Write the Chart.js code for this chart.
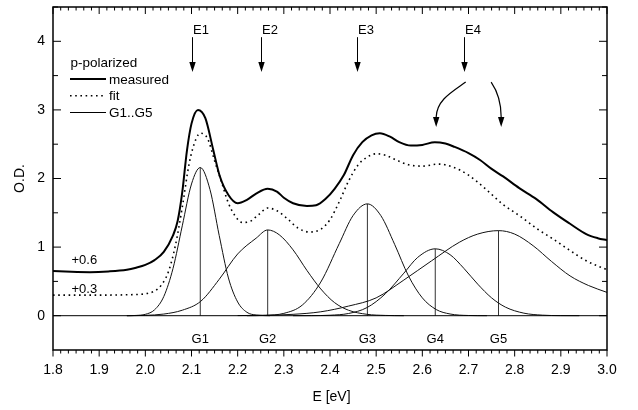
<!DOCTYPE html>
<html>

<head>
    <meta charset="utf-8">
    <title>O.D. spectrum, p-polarized</title>
    <script src="https://cdn.jsdelivr.net/npm/chart.js@4.4.1/dist/chart.umd.min.js"></script>
    <style>
        body { margin: 0; background: #fff; }
        canvas { display: block; }
    </style>
</head>

<body>
    <canvas id="chart" width="638" height="410"></canvas>
    <script>
        // axis ticks
        const xTicks = [1.8, 1.9, 2.0, 2.1, 2.2, 2.3, 2.4, 2.5, 2.6, 2.7, 2.8, 2.9, 3.0];
        const yTicks = [0, 1, 2, 3, 4];

        // measured spectrum (+0.6 offset)
        const measuredE = [1.80, 1.84, 1.88, 1.92, 1.96, 1.98, 2.00, 2.02, 2.04, 2.06, 2.07, 2.08, 2.09, 2.10, 2.114, 2.13, 2.147, 2.161, 2.18, 2.20, 2.22, 2.24, 2.265, 2.285, 2.30, 2.32, 2.35, 2.37, 2.39, 2.41, 2.43, 2.45, 2.47, 2.49, 2.508, 2.53, 2.55, 2.575, 2.60, 2.627, 2.65, 2.67, 2.70, 2.725, 2.75, 2.775, 2.81, 2.847, 2.883, 2.92, 2.955, 2.98, 3.00];
        const measuredOD = [0.65, 0.64, 0.635, 0.645, 0.67, 0.70, 0.74, 0.81, 0.93, 1.17, 1.38, 1.80, 2.40, 2.80, 3.00, 2.88, 2.42, 2.04, 1.76, 1.64, 1.69, 1.78, 1.85, 1.81, 1.72, 1.64, 1.60, 1.61, 1.70, 1.85, 2.05, 2.34, 2.53, 2.63, 2.66, 2.61, 2.53, 2.48, 2.49, 2.53, 2.51, 2.46, 2.37, 2.27, 2.14, 2.03, 1.86, 1.70, 1.51, 1.34, 1.19, 1.13, 1.10];

        // fit (+0.3 offset)
        const fitE = [1.80, 1.90, 1.96, 2.00, 2.02, 2.035, 2.05, 2.065, 2.08, 2.095, 2.11, 2.12, 2.135, 2.15, 2.165, 2.18, 2.195, 2.21, 2.225, 2.245, 2.265, 2.285, 2.31, 2.33, 2.355, 2.38, 2.40, 2.42, 2.44, 2.46, 2.48, 2.50, 2.52, 2.54, 2.57, 2.60, 2.635, 2.665, 2.70, 2.74, 2.775, 2.81, 2.85, 2.885, 2.92, 2.955, 3.00];
        const fitOD = [0.30, 0.30, 0.305, 0.32, 0.36, 0.45, 0.64, 1.02, 1.58, 2.22, 2.58, 2.66, 2.58, 2.26, 1.95, 1.64, 1.45, 1.36, 1.37, 1.47, 1.57, 1.53, 1.40, 1.28, 1.22, 1.26, 1.40, 1.66, 1.96, 2.19, 2.31, 2.36, 2.34, 2.28, 2.20, 2.18, 2.21, 2.17, 2.05, 1.83, 1.62, 1.46, 1.26, 1.11, 0.95, 0.80, 0.67];

        // gaussian components G1..G5
        const g1E = [1.96, 1.98, 2.00, 2.02, 2.04, 2.06, 2.08, 2.10, 2.119, 2.14, 2.16, 2.18, 2.20, 2.22, 2.24, 2.27];
        const g1OD = [0.0, 0.004, 0.02, 0.086, 0.28, 0.69, 1.31, 1.92, 2.16, 1.84, 1.17, 0.55, 0.20, 0.05, 0.01, 0.0];
        const g2E = [1.96, 2.00, 2.04, 2.08, 2.12, 2.16, 2.20, 2.24, 2.265, 2.29, 2.32, 2.35, 2.38, 2.41, 2.44, 2.48, 2.52, 2.56];
        const g2OD = [0.0, 0.005, 0.024, 0.08, 0.21, 0.53, 0.90, 1.13, 1.25, 1.18, 0.96, 0.66, 0.39, 0.19, 0.08, 0.02, 0.004, 0.0];
        const g3E = [2.22, 2.26, 2.30, 2.34, 2.38, 2.42, 2.45, 2.481, 2.51, 2.54, 2.57, 2.60, 2.63, 2.66, 2.70, 2.74];
        const g3OD = [0.0, 0.005, 0.034, 0.155, 0.49, 1.05, 1.46, 1.63, 1.46, 1.04, 0.58, 0.26, 0.09, 0.025, 0.003, 0.0];
        const g4E = [2.32, 2.36, 2.40, 2.44, 2.48, 2.52, 2.56, 2.59, 2.628, 2.66, 2.69, 2.72, 2.75, 2.78, 2.82, 2.86, 2.90, 2.94];
        const g4OD = [0.0, 0.001, 0.007, 0.032, 0.118, 0.32, 0.62, 0.85, 0.975, 0.89, 0.69, 0.46, 0.26, 0.125, 0.037, 0.008, 0.001, 0.0];
        const g5E = [2.20, 2.26, 2.32, 2.38, 2.44, 2.50, 2.56, 2.62, 2.68, 2.72, 2.765, 2.80, 2.84, 2.88, 2.92, 2.96, 3.00];
        const g5OD = [0.002, 0.006, 0.02, 0.057, 0.14, 0.26, 0.52, 0.80, 1.07, 1.19, 1.24, 1.19, 1.02, 0.79, 0.58, 0.44, 0.34];

        const gNames = ['G1', 'G2', 'G3', 'G4', 'G5'];
        const gCenters = [2.119, 2.265, 2.481, 2.628, 2.765];
        const gAmps = [2.16, 1.25, 1.63, 0.975, 1.24];

        // transition arrows
        const eNames = ['E1', 'E2', 'E3', 'E4'];
        const eArrowE = [2.102, 2.251, 2.458, 2.691];

        const FONT = "'Liberation Sans', Arial, Helvetica, sans-serif";
        const pts = (xs, ys) => xs.map((x, i) => ({ x: x, y: ys[i] }));

        const datasets = [];
        datasets.push({ data: [{ x: 1.8, y: 0 }, { x: 3.0, y: 0 }], borderColor: '#000', borderWidth: 1 });
        [[g1E, g1OD], [g2E, g2OD], [g3E, g3OD], [g4E, g4OD], [g5E, g5OD]].forEach(g => {
            datasets.push({ data: pts(g[0], g[1]), borderColor: '#111', borderWidth: 1, cubicInterpolationMode: 'monotone' });
        });
        gCenters.forEach((c, i) => {
            datasets.push({ data: [{ x: c, y: 0 }, { x: c, y: gAmps[i] }], borderColor: '#333', borderWidth: 1 });
        });
        datasets.push({ label: 'fit', data: pts(fitE, fitOD), borderColor: '#000', borderWidth: 1.6, borderDash: [1.6, 3.6], cubicInterpolationMode: 'monotone' });
        datasets.push({ label: 'measured', data: pts(measuredE, measuredOD), borderColor: '#000', borderWidth: 2, cubicInterpolationMode: 'monotone' });

        function arrowHead(ctx, x, y) {
            ctx.beginPath();
            ctx.moveTo(x, y);
            ctx.lineTo(x - 3.2, y - 10);
            ctx.lineTo(x + 3.2, y - 10);
            ctx.closePath();
            ctx.fill();
        }

        const decor = {
            id: 'decor',
            afterDraw(chart) {
                const ctx = chart.ctx, xs = chart.scales.x, ys = chart.scales.y, a = chart.chartArea;
                const X = v => xs.getPixelForValue(v), Y = v => ys.getPixelForValue(v);
                ctx.save();
                ctx.strokeStyle = '#000';
                ctx.fillStyle = '#000';

                // frame
                ctx.lineWidth = 1.5;
                ctx.strokeRect(a.left, a.top, a.right - a.left, a.bottom - a.top);

                // ticks: bottom ones point out, the rest point in
                ctx.lineWidth = 1;
                ctx.beginPath();
                xTicks.forEach((v, i) => {
                    const p = X(v);
                    ctx.moveTo(p, a.bottom); ctx.lineTo(p, a.bottom + 6.5);
                    ctx.moveTo(p, a.top); ctx.lineTo(p, a.top + 7);
                    if (i < xTicks.length - 1) {
                        for (let k = 1; k < 6; k++) {
                            const q = X(v + (xTicks[i + 1] - v) * k / 6);
                            ctx.moveTo(q, a.bottom); ctx.lineTo(q, a.bottom + 3.5);
                            ctx.moveTo(q, a.top); ctx.lineTo(q, a.top + 3.5);
                        }
                    }
                });
                yTicks.forEach(v => {
                    [v, v + 0.5].forEach((w, j) => {
                        const p = Y(w), len = j === 0 ? 8 : 5;
                        ctx.moveTo(a.left, p); ctx.lineTo(a.left + len, p);
                        ctx.moveTo(a.right, p); ctx.lineTo(a.right - len, p);
                    });
                });
                ctx.stroke();

                // straight arrows E1..E4
                ctx.font = '13px ' + FONT;
                ctx.textAlign = 'left';
                ctx.textBaseline = 'alphabetic';
                eArrowE.forEach((e, i) => {
                    const px = Math.round(X(e)) + 0.5;
                    ctx.beginPath();
                    ctx.moveTo(px, Y(4.06));
                    ctx.lineTo(px, Y(3.553) - 9);
                    ctx.stroke();
                    arrowHead(ctx, px, Y(3.553));
                    ctx.fillText(eNames[i], px + 0.5, Y(4.108));
                });

                // E4 split arrows
                ctx.lineWidth = 1.2;
                ctx.beginPath();
                ctx.moveTo(X(2.6939), Y(3.406));
                ctx.bezierCurveTo(X(2.6636), Y(3.26), X(2.6311), Y(3.143), X(2.630), Y(2.895));
                ctx.moveTo(X(2.7491), Y(3.406));
                ctx.bezierCurveTo(X(2.761), Y(3.289), X(2.7708), Y(3.143), X(2.7708), Y(2.895));
                ctx.stroke();
                arrowHead(ctx, X(2.630), Y(2.749));
                arrowHead(ctx, X(2.7708), Y(2.749));

                // component labels
                ctx.textAlign = 'center';
                gNames.forEach((n, i) => ctx.fillText(n, X(gCenters[i]), Y(-0.395)));

                // offset labels
                ctx.textAlign = 'left';
                ctx.fillText('+0.6', X(1.84), Y(0.75));
                ctx.fillText('+0.3', X(1.84), Y(0.336));

                // legend
                const lx = a.left + 17, tx = a.left + 56;
                ctx.font = '13.5px ' + FONT;
                ctx.fillText('p-polarized', lx + 0.5, a.top + 60);
                ctx.fillText('measured', tx, a.top + 76.5);
                ctx.fillText('fit', tx, a.top + 93);
                ctx.fillText('G1..G5', tx, a.top + 110);
                ctx.beginPath();
                ctx.lineWidth = 2;
                ctx.moveTo(lx, a.top + 72); ctx.lineTo(lx + 36, a.top + 72);
                ctx.stroke();
                ctx.beginPath();
                ctx.lineWidth = 1.6;
                ctx.setLineDash([1.6, 3.6]);
                ctx.moveTo(lx, a.top + 88.7); ctx.lineTo(lx + 36, a.top + 88.7);
                ctx.stroke();
                ctx.setLineDash([]);
                ctx.beginPath();
                ctx.lineWidth = 1;
                ctx.moveTo(lx, a.top + 105.5); ctx.lineTo(lx + 36, a.top + 105.5);
                ctx.stroke();

                // x axis title
                ctx.font = '14px ' + FONT;
                ctx.textAlign = 'center';
                ctx.fillText('E [eV]', (a.left + a.right) / 2 + 1.5, 400.5);
                ctx.restore();
            }
        };

        new Chart(document.getElementById('chart'), {
            type: 'line',
            data: { datasets: datasets },
            options: {
                responsive: false,
                animation: false,
                devicePixelRatio: 1,
                layout: { padding: { top: 7, right: 31, left: 0, bottom: 0 } },
                elements: { point: { radius: 0 } },
                plugins: { legend: { display: false }, tooltip: { enabled: false } },
                scales: {
                    x: {
                        type: 'linear', min: 1.8, max: 3.0,
                        afterBuildTicks: s => { s.ticks = xTicks.map(v => ({ value: v })); },
                        afterFit: s => { s.height = 60; s.paddingLeft = 0; s.paddingRight = 0; },
                        grid: { display: false, drawTicks: false },
                        border: { display: false },
                        ticks: {
                            autoSkip: false, maxRotation: 0, padding: 12, color: '#000',
                            font: { family: FONT, size: 14 },
                            callback: v => v.toFixed(1)
                        }
                    },
                    y: {
                        type: 'linear', min: -0.5, max: 4.5,
                        afterBuildTicks: s => { s.ticks = yTicks.map(v => ({ value: v })); },
                        afterFit: s => { s.width = 53; s.paddingTop = 0; s.paddingBottom = 0; },
                        grid: { display: false, drawTicks: false },
                        border: { display: false },
                        ticks: { padding: 8, color: '#000', font: { family: FONT, size: 14 } },
                        title: {
                            display: true, text: 'O.D.', color: '#000',
                            font: { family: FONT, size: 14 }, padding: { top: 12, bottom: 0 }
                        }
                    }
                }
            },
            plugins: [decor]
        });
    </script>
</body>

</html>
